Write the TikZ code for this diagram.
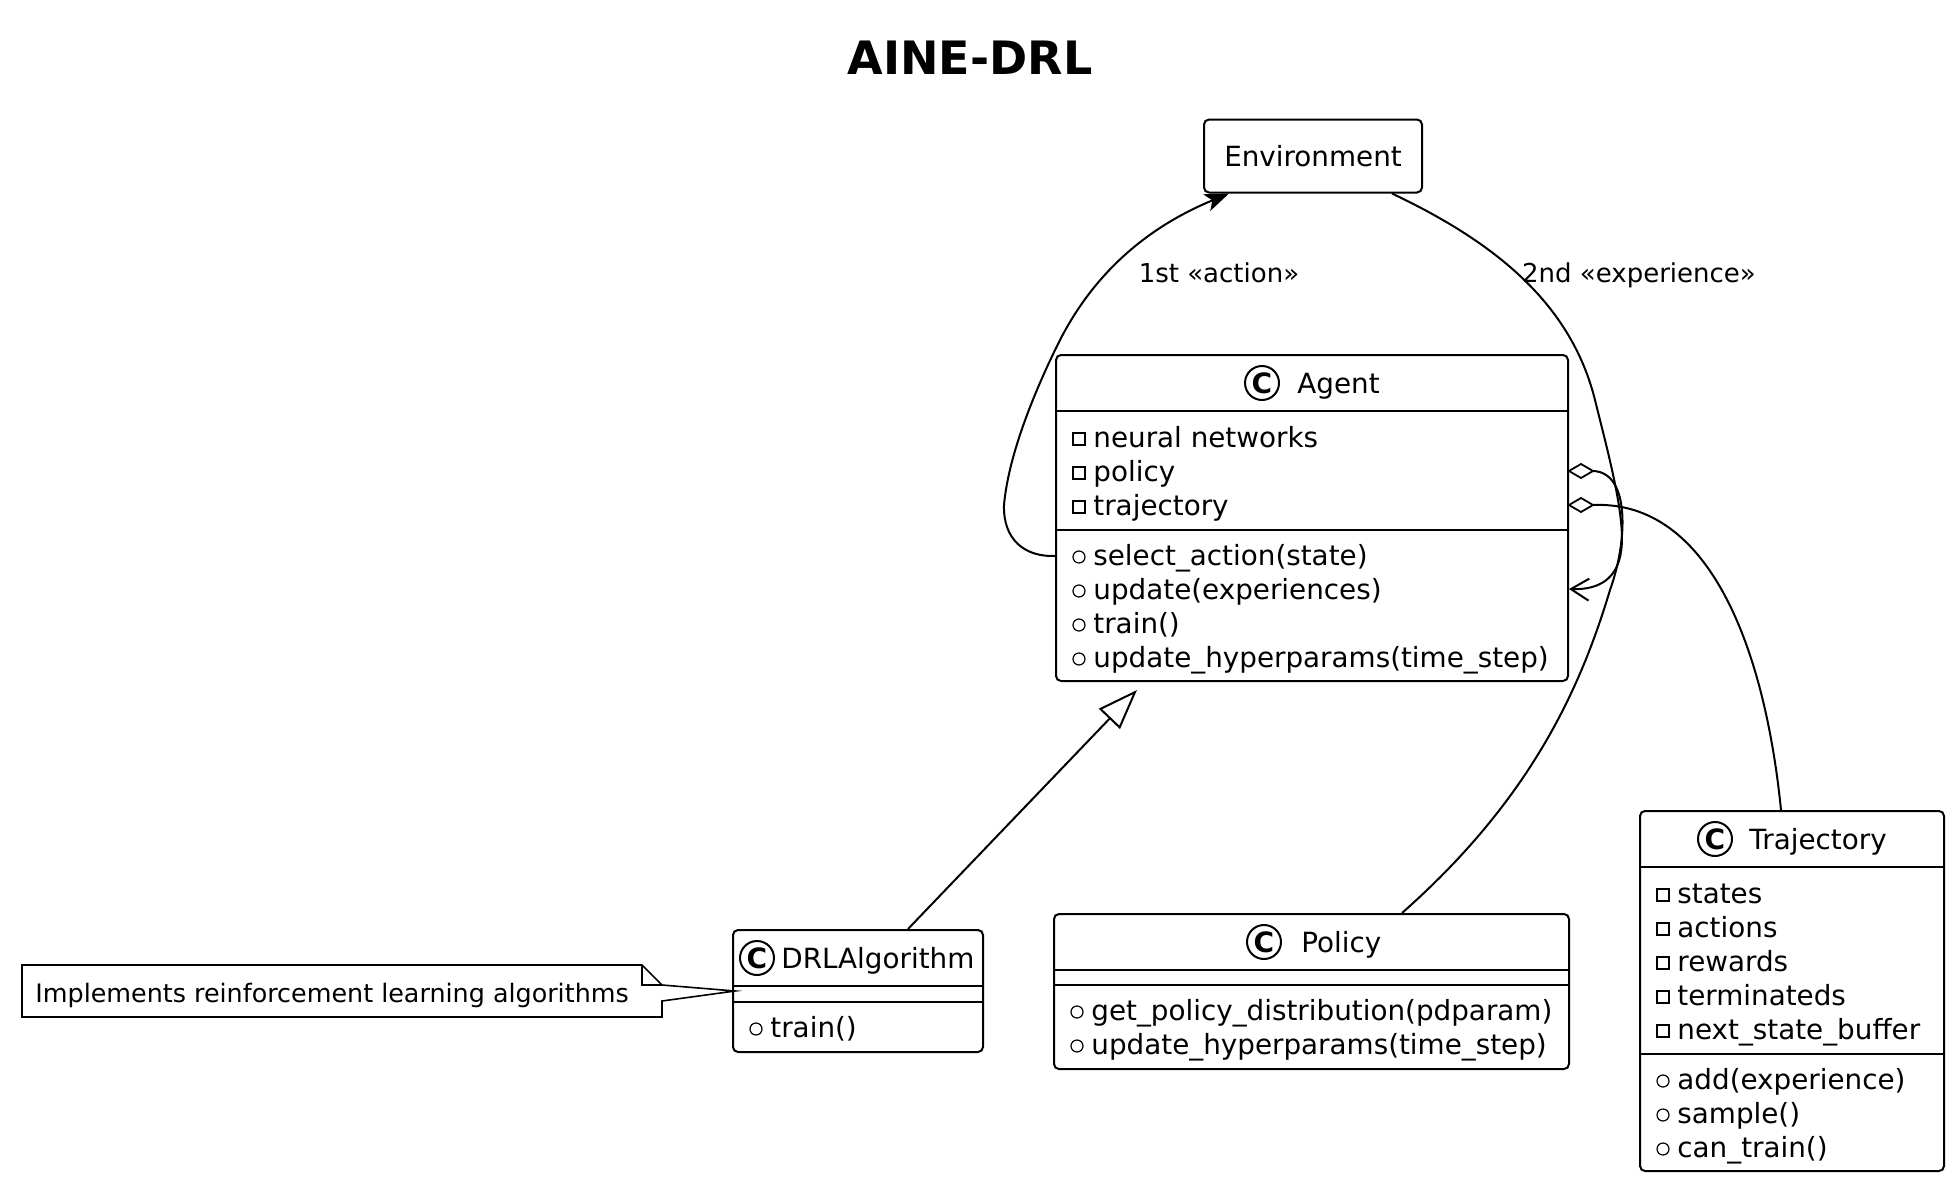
\documentclass[tikz,border=0pt]{standalone}
\usepackage{fontspec}
\setmainfont{DejaVu Sans}
\usetikzlibrary{arrows.meta,calc}
\newcounter{rowc}
\tikzset{
  cls/.style={draw, line width=1pt, rounded corners=2.5pt, fill=white, inner sep=0pt},
  ln/.style={line width=1pt},
  icon/.style={line width=0.6pt},
  rowtext/.style={anchor=base west, inner sep=0pt, font=\fontsize{13.9}{16}\selectfont},
  spot/.style={line width=1pt, fill=white},
  spotC/.style={inner sep=0pt, font=\bfseries\fontsize{14}{16}\selectfont},
  conn/.style={line width=1pt},
  dia/.style={line width=0.9pt, fill=white, line join=miter},
  lbl/.style={anchor=base, inner sep=0pt, font=\fontsize{13}{15}\selectfont},
}
\newcommand\clsfield[3]{\stepcounter{rowc}%
  \draw[icon] ({#1+17},{#2-5}) rectangle ({#1+29},{#2+7});
  \node[rowtext] (r\arabic{rowc}) at ({#1+37},{#2+9}) {#3};}
\newcommand\clsmethod[3]{\stepcounter{rowc}%
  \draw[icon] ({#1+23},{#2+1}) circle[radius=3pt];
  \node[rowtext] (r\arabic{rowc}) at ({#1+37},{#2+9}) {#3};}
\newcommand\clshead[5]{%
  \draw[spot] (#2,#3) circle[radius=8.5pt];
  \node[spotC] (#1c) at (#2,#3) {C};
  \node[rowtext] (#1n) at (#4,{#3+10}) {#5};}
\begin{document}
\begin{tikzpicture}[x=0.5pt,y=-0.5pt]
\useasboundingbox[fill=white] (0,0) rectangle (1956,1183);
\node[font=\bfseries\fontsize{23}{26}\selectfont, anchor=base, inner sep=0pt] (title) at (970,75) {AINE-DRL};

% Environment
\node[cls, minimum width=109pt, minimum height=36.5pt, font=\fontsize{13.9}{16}\selectfont] (env) at (1313,156) {Environment};

% Agent
\node[cls, minimum width=256pt, minimum height=163pt] (agent) at (1312,518) {};
\draw[ln] (1056,411) -- (1568,411);
\draw[ln] (1056,530) -- (1568,530);
\clshead{agent}{1262}{383}{1297}{Agent}
\clsfield{1056}{438}{neural networks}
\clsfield{1056}{472}{policy}
\clsfield{1056}{506}{trajectory}
\clsmethod{1056}{556}{select\_action(state)}
\clsmethod{1056}{590}{update(experiences)}
\clsmethod{1056}{624}{train()}
\clsmethod{1056}{658}{update\_hyperparams(time\_step)}

% DRLAlgorithm
\node[cls, minimum width=125pt, minimum height=61pt] (drl) at (858,991) {};
\draw[ln] (733,986) -- (983,986);
\draw[ln] (733,1002) -- (983,1002);
\clshead{drl}{757}{958}{781}{DRLAlgorithm}
\clsmethod{733}{1028}{train()}

% Policy
\node[cls, minimum width=257.5pt, minimum height=77.5pt] (policy) at (1311.5,991.5) {};
\draw[ln] (1054,970) -- (1569,970);
\draw[ln] (1054,985) -- (1569,985);
\clshead{policy}{1264}{942}{1301}{Policy}
\clsmethod{1054}{1011}{get\_policy\_distribution(pdparam)}
\clsmethod{1054}{1045}{update\_hyperparams(time\_step)}

% Trajectory
\node[cls, minimum width=152pt, minimum height=180pt] (traj) at (1792,991) {};
\draw[ln] (1640,867) -- (1944,867);
\draw[ln] (1640,1054) -- (1944,1054);
\clshead{traj}{1715}{839}{1749}{Trajectory}
\clsfield{1640}{894}{states}
\clsfield{1640}{928}{actions}
\clsfield{1640}{962}{rewards}
\clsfield{1640}{996}{terminateds}
\clsfield{1640}{1030}{next\_state\_buffer}
\clsmethod{1640}{1080}{add(experience)}
\clsmethod{1640}{1114}{sample()}
\clsmethod{1640}{1148}{can\_train()}

% Note
\draw[line width=0.8pt, fill=white] (22,965) -- (642,965) -- (662,985) -- ($(drl.west)+(3,0)$) -- (662,1001) -- (662,1017) -- (22,1017) -- cycle;
\draw[line width=0.8pt] (642,965) -- (642,985) -- (662,985);
\node[anchor=base west, inner sep=0pt, font=\fontsize{12.7}{15}\selectfont] (notetext) at (35,1002) {Implements reinforcement learning algorithms};

% Connectors
\draw[conn, -{Stealth[length=12pt,width=9pt,inset=3pt]}] ($(agent.north west)+(0,202)$) .. controls (1025,557) and (1003,540) .. (1004,505) .. controls (1008,460) and (1030,400) .. (1060,340) .. controls (1100,262) and (1160,222) .. ($(env.south west)+(26,0)$);
\draw[conn, -{Straight Barb[length=9pt,width=11pt]}] ($(env.south west)+(189,0)$) .. controls (1490,240) and (1570,300) .. (1595,400) .. controls (1610,460) and (1626,520) .. (1621,552) .. controls (1617,578) and (1600,590) .. ($(agent.north east)+(0,235)$);

% aggregation (Policy)
\coordinate (dp) at ($(agent.north east)+(0,117)$);
\draw[conn] ($(dp)+(24,0)$) .. controls (1630,472) and (1628,540) .. (1610,590) .. controls (1580,690) and (1530,800) .. ($(policy.north west)+(349,0)$);
\draw[dia] (dp) -- ++(12,-7) -- ++(12,7) -- ++(-12,7) -- cycle;
% aggregation (Trajectory)
\coordinate (dt) at ($(agent.north east)+(0,151)$);
\draw[conn] ($(dt)+(24,0)$) .. controls (1710,500) and (1765,650) .. ($(traj.north west)+(142,0)$);
\draw[dia] (dt) -- ++(12,-7) -- ++(12,7) -- ++(-12,7) -- cycle;

\draw[conn, -{Triangle[fill=white,length=20pt,width=14.5pt]}] ($(drl.north west)+(176,0)$) -- ($(agent.south west)+(82,8)$);

\node[lbl] (lbl1) at (1219,282) {1st «action»};
\node[lbl] (lbl2) at (1639,282) {2nd «experience»};
\end{tikzpicture}
\end{document}
